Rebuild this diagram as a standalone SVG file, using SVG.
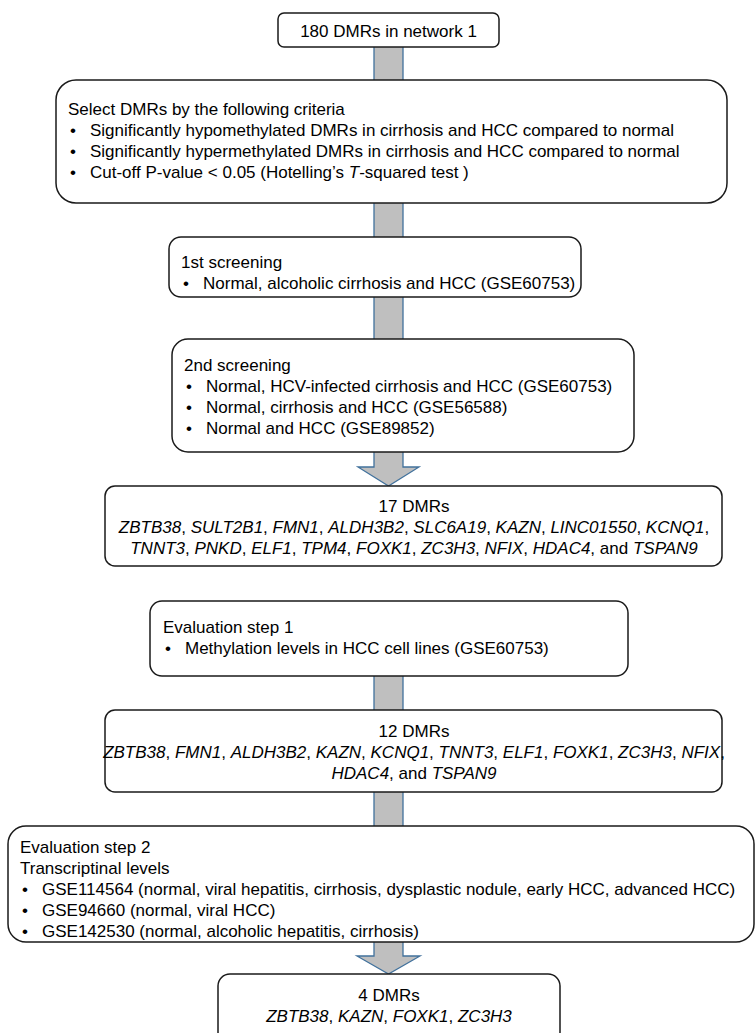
<svg xmlns="http://www.w3.org/2000/svg" width="755" height="1033" viewBox="0 0 755 1033">
<style>
.box{fill:#fff;stroke:#1a1a1a;stroke-width:1.5}
.conn{fill:#bfbfbf;stroke:#41719c;stroke-width:1.3}
text{font-family:"Liberation Sans",Arial,sans-serif;font-size:17px;fill:#000}
.c{text-anchor:middle}
.i{font-style:italic}
</style>
<rect width="755" height="1033" fill="#fff"/>
<g id="connectors">
<rect class="conn" x="374" y="44" width="29" height="40"/>
<rect class="conn" x="374" y="200" width="29" height="40"/>
<rect class="conn" x="374" y="294" width="29" height="48"/>
<polygon class="conn" points="374,449 403,449 403,467 419,467 388.5,486 358,467 374,467"/>
<rect class="conn" x="374" y="673" width="29" height="40"/>
<rect class="conn" x="374" y="789" width="29" height="40"/>
<polygon class="conn" points="374,939 403,939 403,956 420,956 388.5,974 357,956 374,956"/>
</g>
<g id="n1">
<rect class="box" x="278" y="13" width="221" height="34" rx="6"/>
<text class="c" x="388.5" y="37">180 DMRs in network 1</text>
</g>
<g id="n2">
<rect class="box" x="56" y="80" width="671" height="123" rx="20"/>
<text x="68" y="115">Select DMRs by the following criteria</text>
<text x="70" y="136">•</text><text x="90" y="136">Significantly hypomethylated DMRs in cirrhosis and HCC compared to normal</text>
<text x="70" y="157">•</text><text x="90" y="157">Significantly hypermethylated DMRs in cirrhosis and HCC compared to normal</text>
<text x="70" y="178">•</text><text x="90" y="178">Cut-off P-value &lt; 0.05 (Hotelling’s <tspan class="i">T</tspan>-squared test )</text>
</g>
<g id="n3">
<rect class="box" x="169" y="237" width="412" height="60" rx="12"/>
<text x="181" y="268">1st screening</text>
<text x="183" y="289">•</text><text x="203" y="289">Normal, alcoholic cirrhosis and HCC (GSE60753)</text>
</g>
<g id="n4">
<rect class="box" x="172" y="339" width="462" height="113" rx="16"/>
<text x="184" y="371">2nd screening</text>
<text x="186" y="392">•</text><text x="206" y="392">Normal, HCV-infected cirrhosis and HCC (GSE60753)</text>
<text x="186" y="413">•</text><text x="206" y="413">Normal, cirrhosis and HCC (GSE56588)</text>
<text x="186" y="434">•</text><text x="206" y="434">Normal and HCC (GSE89852)</text>
</g>
<g id="n5">
<rect class="box" x="105" y="486" width="617" height="80" rx="10"/>
<text class="c" x="414" y="512">17 DMRs</text>
<text class="c" x="414" y="533"><tspan class="i">ZBTB38</tspan>, <tspan class="i">SULT2B1</tspan>, <tspan class="i">FMN1</tspan>, <tspan class="i">ALDH3B2</tspan>, <tspan class="i">SLC6A19</tspan>, <tspan class="i">KAZN</tspan>, <tspan class="i">LINC01550</tspan>, <tspan class="i">KCNQ1</tspan>,</text>
<text class="c" x="414" y="554"><tspan class="i">TNNT3</tspan>, <tspan class="i">PNKD</tspan>, <tspan class="i">ELF1</tspan>, <tspan class="i">TPM4</tspan>, <tspan class="i">FOXK1</tspan>, <tspan class="i">ZC3H3</tspan>, <tspan class="i">NFIX</tspan>, <tspan class="i">HDAC4</tspan>, and <tspan class="i">TSPAN9</tspan></text>
</g>
<g id="n6">
<rect class="box" x="150" y="601" width="478" height="75" rx="12"/>
<text x="163" y="633">Evaluation step 1</text>
<text x="165" y="654">•</text><text x="185" y="654">Methylation levels in HCC cell lines (GSE60753)</text>
</g>
<g id="n7">
<rect class="box" x="105" y="710" width="617" height="82" rx="10"/>
<text class="c" x="414" y="737">12 DMRs</text>
<text class="c" x="414" y="758"><tspan class="i">ZBTB38</tspan>, <tspan class="i">FMN1</tspan>, <tspan class="i">ALDH3B2</tspan>, <tspan class="i">KAZN</tspan>, <tspan class="i">KCNQ1</tspan>, <tspan class="i">TNNT3</tspan>, <tspan class="i">ELF1</tspan>, <tspan class="i">FOXK1</tspan>, <tspan class="i">ZC3H3</tspan>, <tspan class="i">NFIX</tspan>,</text>
<text class="c" x="414" y="779"><tspan class="i">HDAC4</tspan>, and <tspan class="i">TSPAN9</tspan></text>
</g>
<g id="n8">
<rect class="box" x="8" y="826" width="746" height="116" rx="18"/>
<text x="20" y="853">Evaluation step 2</text>
<text x="20" y="874">Transcriptinal levels</text>
<text x="22" y="895">•</text><text x="42" y="895">GSE114564 (normal, viral hepatitis, cirrhosis, dysplastic nodule, early HCC, advanced HCC)</text>
<text x="22" y="916">•</text><text x="42" y="916">GSE94660 (normal, viral HCC)</text>
<text x="22" y="937">•</text><text x="42" y="937">GSE142530 (normal, alcoholic hepatitis, cirrhosis)</text>
</g>
<g id="n9">
<rect class="box" x="218" y="974" width="342" height="70" rx="12"/>
<text class="c" x="389" y="1001">4 DMRs</text>
<text class="c" x="389" y="1022"><tspan class="i">ZBTB38</tspan>, <tspan class="i">KAZN</tspan>, <tspan class="i">FOXK1</tspan>, <tspan class="i">ZC3H3</tspan></text>
</g>
</svg>
